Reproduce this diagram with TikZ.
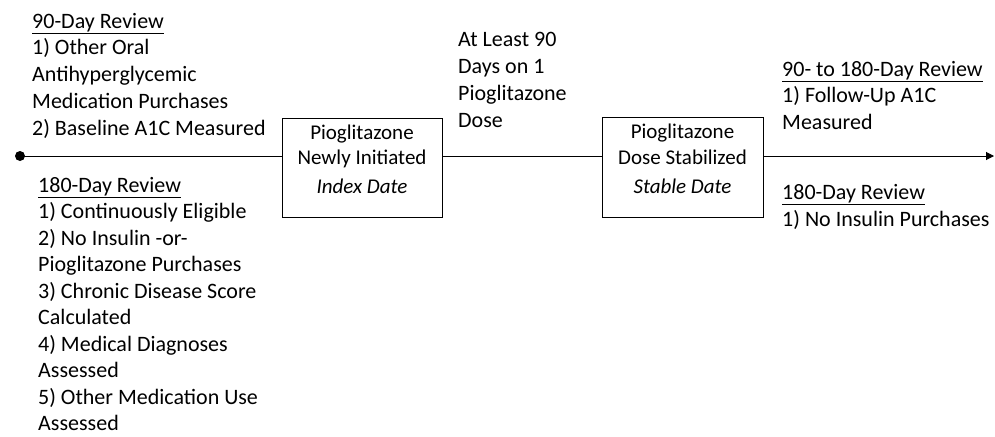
\documentclass[tikz,border=0pt]{standalone}
\usepackage{fontspec}
\setmainfont{Carlito}
\usetikzlibrary{arrows.meta}
\tikzset{
  txt/.style={anchor=base west, align=left, inner sep=0pt, font=\fontsize{22}{26.67}\selectfont},
  boxtxt/.style={anchor=base, align=center, inner sep=0pt, font=\fontsize{21}{25.7}\selectfont},
  box/.style={draw, line width=1pt, rectangle, inner sep=0pt},
  conn/.style={line width=1pt}
}
\begin{document}
\begin{tikzpicture}[x=1pt,y=-1pt]
\useasboundingbox (0,0) rectangle (995,436);
% boxes
\node[box, minimum width=160pt, minimum height=99pt] (b1) at (362,167.5) {};
\node[box, minimum width=161pt, minimum height=100pt] (b2) at (682.5,167) {};
\node[boxtxt] (b1t) at (362,193.5) {Pioglitazone\\Newly Initiated\\[3pt]\textit{Index Date}};
\node[boxtxt] (b2t) at (682.5,193) {Pioglitazone\\Dose Stabilized\\[3pt]\textit{Stable Date}};
% timeline
\node[circle, fill, inner sep=0pt, minimum size=10pt] (dot) at (20,156) {};
\coordinate (endc) at (994,156);
\draw[conn] (dot.center) -- (dot -| b1.west);
\draw[conn] (b1.east |- dot) -- (b2.west |- dot);
\draw[conn, -{Triangle[length=8pt,width=8pt]}] (b2.east |- dot) -- (endc);
% texts (anchored at the baseline of the last line)
\node[txt] (tl) at (32,135) {\underline{90-Day Review}\\1) Other Oral\\Antihyperglycemic\\Medication Purchases\\2) Baseline A1C Measured};
\node[txt, font=\fontsize{22}{26.5}\selectfont] (bl) at (38,430.5) {\underline{180-Day Review}\\1) Continuously Eligible\\2) No Insulin -or-\\Pioglitazone Purchases\\3) Chronic Disease Score\\Calculated\\4) Medical Diagnoses\\Assessed\\5) Other Medication Use\\Assessed};
\node[txt] (mid) at (458,127) {At Least 90\\Days on 1\\Pioglitazone\\Dose};
\node[txt] (tr) at (782,129.5) {\underline{90- to 180-Day Review}\\1) Follow-Up A1C\\Measured};
\node[txt] (br) at (782,226) {\underline{180-Day Review}\\1) No Insulin Purchases};
\end{tikzpicture}
\end{document}
